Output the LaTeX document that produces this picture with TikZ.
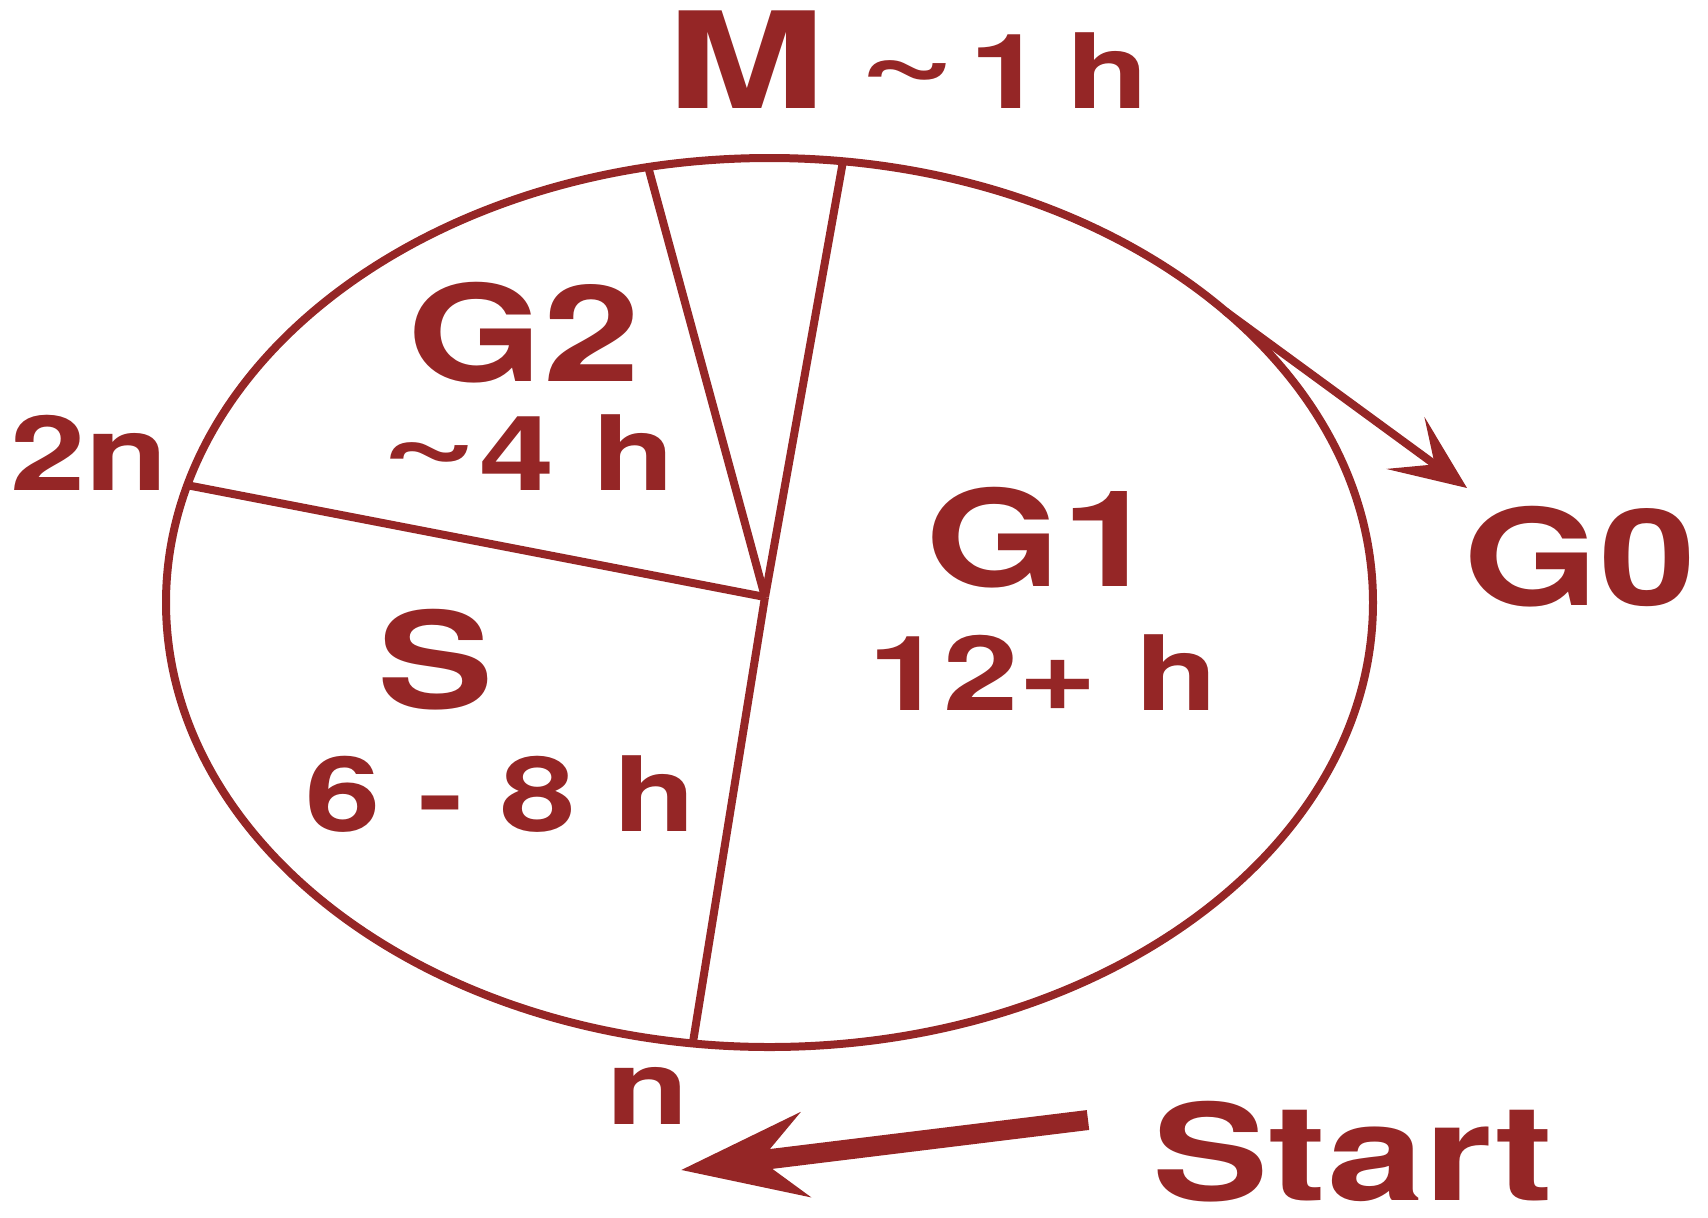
\documentclass[tikz,border=0pt]{standalone}
\usepackage{fontspec}
\usepackage{graphicx}
\newfontfamily\cellfont{TeX Gyre Heros}[FakeStretch=1.3]
\usetikzlibrary{arrows.meta}

\definecolor{cycRed}{RGB}{149,38,38}
\newcommand{\bigtxt}{\fontsize{67}{70}\selectfont}
\newcommand{\smalltxt}{\fontsize{52}{55}\selectfont}
\newcommand{\tld}{\raisebox{6pt}[0pt][0pt]{\scalebox{1.25}[1.1]{\textasciitilde}}}

\tikzset{
  phase/.style={cycRed, line width=4pt},
  lbl/.style={cycRed, anchor=base, inner sep=0pt}
}

\begin{document}
\begin{tikzpicture}[x=0.5pt, y=-0.5pt, font=\cellfont\bfseries]

  \useasboundingbox (0,0) rectangle (1708,1217);

  % the cycle
  \coordinate (C) at (769.5,602.5);
  \draw[phase] (C) ellipse [x radius=603.5, y radius=444.5];

  % phase borders, all meeting at the hub
  \coordinate (mL) at (648.2,167.1);
  \coordinate (mR) at (843,161.3);
  \coordinate (pTwoN) at (187.4,485.2);
  \coordinate (pN) at (692.8,1043.4);
  \coordinate (hub) at (765,597);
  \draw[phase] (mL) -- (hub);
  \draw[phase] (mR) -- (hub);
  \draw[phase] (pTwoN) -- (hub);
  \draw[phase] (hub) -- (pN);

  % labels
  \node[lbl] (mLabel) at (908,108) {{\bigtxt\scalebox{1.1}[1]{M}}\hspace{16pt}{\smalltxt\tld\hspace{6pt}1\hspace{11pt}h}};
  \node[lbl] (gTwo) at (524,381) {\bigtxt G2};
  \node[lbl] (gTwoTime) at (528,490) {\smalltxt\tld4 h};
  \node[lbl] (twoN) at (89,490) {\smalltxt 2n};
  \node[lbl] (sPhase) at (436,708) {\bigtxt S};
  \node[lbl] (sTime) at (501,831) {\smalltxt 6 - 8 h};
  \node[lbl] (gOne) at (1042,586) {\bigtxt G1};
  \node[lbl] (gOneTime) at (1043,710) {\smalltxt 12+ h};
  \node[lbl] (gZero) at (1580,605) {\bigtxt G0};
  \node[lbl] (oneN) at (648,1124) {\smalltxt n};
  \node[lbl] (start) at (1353,1200) {\bigtxt Start};

  % exit to G0
  \coordinate (gZeroFrom) at (1225,311);
  \coordinate (gZeroTip) at (1467,488);
  \draw[phase, -{Stealth[length=38pt, width=32pt, inset=18pt]}] (gZeroFrom) -- (gZeroTip);

  % entry arrow
  \coordinate (startTail) at (1088,1120);
  \coordinate (startTip) at (681,1170);
  \draw[cycRed, line width=10pt, -{Stealth[length=62pt, width=42pt, inset=22pt]}] (startTail) -- (startTip);

\end{tikzpicture}
\end{document}
